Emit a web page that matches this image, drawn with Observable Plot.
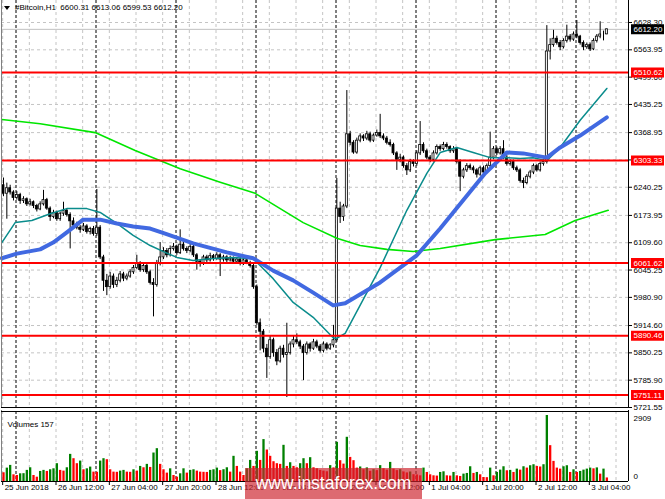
<!DOCTYPE html>
<html><head><meta charset="utf-8">
<script src="https://cdn.jsdelivr.net/npm/d3@7"></script>
<script src="https://cdn.jsdelivr.net/npm/@observablehq/plot@0.6"></script>
<style>
body{margin:0;background:#fff;}
#wrap{position:relative;width:665px;height:499px;overflow:hidden;font-family:"Liberation Sans",Arial,sans-serif;background:#fff;}
#main{position:absolute;left:0;top:0;}
#vol{position:absolute;left:0;top:410px;}
#tri{position:absolute;left:4px;top:6px;width:0;height:0;border-left:3px solid transparent;border-right:3px solid transparent;border-top:4px solid #000;}
#title{position:absolute;left:15px;top:3px;font-size:8px;line-height:10px;color:#000;white-space:pre;}
#wm{position:absolute;left:245px;top:468px;width:177px;height:31px;background:rgba(205,35,45,0.68);color:#fff;font-size:17.5px;line-height:31px;text-align:center;}
</style></head>
<body><div id="wrap"><div id="main"></div><div id="vol"></div><div id="tri"></div><div id="title"></div><div id="wm">www.instaforex.com</div></div>
<script>
// ---- H1 candles (bar 0 = 25 Jun 20:00) ----
const open = [6245,6225,6238,6228,6215,6222,6208,6212,6200,6205,
6196,6188,6200,6210,6190,6170,6180,6165,6178,6185,
6175,6160,6150,6145,6140,6148,6135,6142,6130,6145,
6075,6020,6005,6030,6010,6020,6035,6025,6030,6040,
6050,6060,6045,6055,6040,6015,6010,6060,6075,6090,
6080,6095,6100,6085,6105,6095,6090,6100,6080,6065,
6060,6075,6068,6078,6072,6080,6070,6075,6068,6072,
6065,6070,6060,6068,6062,6055,6005,5920,5900,5860,
5840,5880,5850,5830,5860,5845,5850,5870,5880,5875,
5865,5850,5870,5860,5875,5865,5855,5870,5860,5868,
5880,6190,6170,6195,6365,6345,6322,6350,6360,6355,
6365,6350,6362,6368,6360,6355,6345,6340,6320,6305,
6310,6290,6280,6300,6295,6320,6340,6325,6310,6305,
6320,6335,6330,6340,6335,6325,6330,6300,6265,6280,
6290,6285,6280,6270,6285,6275,6290,6310,6330,6320,
6330,6310,6295,6300,6285,6280,6255,6250,6265,6275,
6290,6280,6295,6300,6560,6575,6590,6580,6570,6585,
6595,6588,6600,6595,6580,6570,6575,6565,6585,6595,
6600,6600.31];
const high = [6262,6250,6245,6232,6230,6226,6218,6215,6212,6208,
6200,6206,6233,6214,6194,6186,6184,6182,6205,6190,
6180,6168,6158,6150,6155,6152,6146,6148,6235,6150,
6080,6035,6040,6036,6028,6042,6040,6036,6046,6056,
6080,6065,6062,6060,6045,6025,6068,6110,6098,6096,
6102,6108,6104,6140,6110,6100,6106,6104,6084,6070,
6080,6080,6085,6082,6086,6084,6080,6079,6078,6076,
6075,6074,6072,6071,6066,6060,6010,5930,5905,5870,
5890,5885,5858,5866,5868,5920,5876,5890,5895,5880,
5870,5876,5874,5882,5880,5870,5876,5874,5872,5915,
6261,6205,6200,6468,6372,6350,6356,6366,6364,6372,
6370,6366,6375,6412,6366,6360,6352,6344,6324,6318,
6314,6296,6306,6305,6326,6395,6345,6330,6315,6326,
6340,6340,6346,6345,6338,6336,6334,6305,6285,6296,
6295,6290,6284,6290,6290,6295,6370,6336,6335,6336,
6350,6315,6305,6304,6290,6284,6262,6270,6280,6295,
6294,6300,6305,6621,6590,6610,6596,6586,6590,6622,
6600,6606,6633,6598,6585,6580,6580,6590,6600,6630,
6608,6613.06];
const low = [6218,6165,6222,6208,6210,6200,6202,6195,6196,6190,
6182,6185,6196,6186,6160,6166,6160,6160,6172,6170,
6095,6145,6140,6132,6136,6130,6128,6125,6125,6070,
5995,5985,6000,6002,6004,6015,6018,6020,6026,6035,
6046,6040,6040,6035,6010,5935,6005,6055,6070,6074,
6076,6090,6080,6082,6090,6084,6086,6075,6045,6052,
6056,6062,6064,6066,6068,6030,6064,6062,6064,6060,
6062,6055,6056,6058,6050,6000,5915,5855,5850,5790,
5835,5840,5820,5826,5838,5745,5845,5862,5870,5858,
5785,5845,5852,5856,5860,5850,5850,5855,5856,5862,
5875,6155,6160,6190,6338,6318,6318,6345,6348,6350,
6345,6346,6358,6355,6350,6340,6335,6315,6280,6298,
6285,6268,6275,6288,6290,6315,6320,6305,6298,6300,
6316,6325,6326,6330,6320,6320,6295,6230,6260,6275,
6280,6272,6262,6266,6270,6272,6285,6305,6315,6316,
6305,6290,6290,6280,6275,6250,6237,6246,6260,6270,
6276,6276,6290,6295,6540,6570,6575,6562,6566,6580,
6582,6584,6590,6575,6562,6565,6560,6562,6580,6590,
6585,6599.53];
const close = [6225,6238,6228,6215,6222,6208,6212,6200,6205,6196,
6188,6200,6210,6190,6170,6180,6165,6178,6185,6175,
6160,6150,6145,6140,6148,6135,6142,6130,6145,6075,
6020,6005,6030,6010,6020,6035,6025,6030,6040,6050,
6060,6045,6055,6040,6015,6010,6060,6075,6090,6080,
6095,6100,6085,6105,6095,6090,6100,6080,6065,6060,
6075,6068,6078,6072,6080,6070,6075,6068,6072,6065,
6070,6060,6068,6062,6055,6005,5920,5900,5860,5840,
5880,5850,5830,5860,5845,5850,5870,5880,5875,5865,
5850,5870,5860,5875,5865,5855,5870,5860,5868,5880,
6190,6170,6195,6365,6345,6322,6350,6360,6355,6365,
6350,6362,6368,6360,6355,6345,6340,6320,6305,6310,
6290,6280,6300,6295,6320,6340,6325,6310,6305,6320,
6335,6330,6340,6335,6325,6330,6300,6265,6280,6290,
6285,6280,6270,6285,6275,6290,6310,6330,6320,6330,
6310,6295,6300,6285,6280,6255,6250,6265,6275,6290,
6280,6295,6300,6560,6575,6590,6580,6570,6585,6595,
6588,6600,6595,6580,6570,6575,6565,6585,6595,6600,
6600,6612.20];
const volume = [385,590,710,295,265,340,345,490,605,265,
190,443,490,443,517,560,785,490,458,605,
1196,1005,785,900,517,560,635,413,405,900,
1005,960,517,413,405,458,490,413,405,517,
458,665,605,755,620,1255,1447,755,517,370,
560,265,190,340,560,370,490,517,458,413,
405,400,490,517,590,480,520,605,413,1110,
665,413,265,560,930,665,1330,930,1847,1387,
1110,872,785,755,1595,665,827,665,605,785,
1005,785,1050,605,560,490,458,430,700,600,
1727,917,767,1949,1063,917,591,640,520,600,
450,520,480,700,560,500,842,546,480,520,
420,380,420,300,290,251,591,399,296,251,
240,399,428,251,240,399,251,222,325,355,
650,355,399,296,177,170,591,251,399,502,
650,473,490,399,546,502,650,591,695,739,
665,640,739,2909,1580,887,591,546,650,695,
399,517,399,443,502,546,591,560,600,325,
546,157];

// ---- moving averages (bar index, price) ----
const tealIdx = [-0.5,3.5,8.5,14,19,25,29,34,38.9,44,48.5,52,56.9,62,68.9,74.9,80.9,86.9,92.9,98.9,99.8,102.5,113,121,127,131,136,140.9,146,151,155,158.9,163,167,173,181];
const tealPrice = [6110,6157,6162,6178,6190,6190,6181,6155,6127,6103,6087,6075,6068,6072,6075,6072,6025,5969,5934,5886,5884,5896,6051,6186,6273,6322,6334,6322,6310,6310,6308,6310,6303,6334,6398,6473];
const blueIdx = [-0.5,4,11,14.9,19,23.9,29,34,38.9,44,48.5,56.9,67,74.9,80.9,86.9,92.9,98.9,102.5,113,124,131,144.5,151,155.9,163,167,173,181];
const bluePrice = [6073,6084,6094,6110,6134,6164,6164,6155,6148,6143,6131,6108,6087,6073,6044,6021,5992,5962,5967,6016,6080,6143,6273,6322,6320,6310,6334,6362,6405];
const greenIdx = [-0.5,11,27.5,39.5,53,65,75.5,89.9,100,107,115,122.9,131,147.5,162.5,171.5,181.4];
const greenPrice = [6400,6390,6369,6327,6284,6252,6226,6157,6120,6103,6094,6089,6096,6117,6129,6162,6186];

// ---- levels and axes ----
const levels = [6510.62,6303.33,6061.62,5890.46,5751.11];
const yTicks = [6628.30,6563.95,6499.60,6435.25,6368.95,6304.60,6240.25,6173.95,6109.60,6045.25,5980.90,5914.60,5850.25,5785.90,5721.55];
const volTicks = [2909,0];
const xTickIdx = [0,16,32,48,64,80,96,112,128,144,160,176];
const xTickLabels = ["25 Jun 2018","26 Jun 12:00","27 Jun 04:00","27 Jun 20:00","28 Jun 12:00","29 Jun 04:00","29 Jun 20:00","30 Jun 12:00","1 Jul 04:00","1 Jul 20:00","2 Jul 12:00","3 Jul 04:00"];
const gridIdx = [0,8,16,24,32,40,48,56,64,72,80,88,96,104,112,120,128,136,144,152,160,168,176,184];
const daySeparators = [4,28,52,76,100,124,148,172];
const symbol = "#Bitcoin,H1";

const n = close.length - 1;
const lastPrice = close[n];
const bars = close.map((c,i)=>({i, o:open[i], h:high[i], l:low[i], c}));
const vbars = volume.map((v,i)=>({i, v, up: i>0 && v>volume[i-1]}));
const pts = (xs, ys) => xs.map((x,k)=>({x, y: ys[k]}));
const xDomain = [-0.6, 187.5];
const font = {fontFamily:"Liberation Sans, Arial, sans-serif", fontSize:"8px", background:"#fff", overflow:"visible"};
const sh = d => d - 0.25;

const main = Plot.plot({
  width:665, height:410, marginLeft:1, marginRight:37, marginTop:0, marginBottom:3,
  x:{type:"linear", domain:xDomain, axis:null},
  y:{type:"linear", domain:[5721.55, 6680.1], axis:null},
  style:font,
  marks:[
    Plot.ruleY(yTicks, {stroke:"#c4c4c4", strokeDasharray:"3,3"}),
    Plot.ruleX(gridIdx, {x:sh, stroke:"#c4c4c4", strokeDasharray:"3,3"}),
    Plot.ruleX(daySeparators, {x:sh, stroke:"#000", strokeDasharray:"3,2"}),
    Plot.ruleY([lastPrice], {stroke:"#c0c0c0"}),
    Plot.ruleX(bars, {x:"i", y1:"l", y2:"h", stroke:"#000", strokeWidth:1}),
    Plot.rect(bars, {x1:d=>d.i-0.3, x2:d=>d.i+0.3, y1:"o", y2:"c", fill:d=>d.c>=d.o?"#fff":"#000", stroke:"#000", strokeWidth:0.8}),
    Plot.line(pts(greenIdx, greenPrice), {x:"x", y:"y", stroke:"#00e600", strokeWidth:1.6}),
    Plot.line(pts(tealIdx, tealPrice), {x:"x", y:"y", stroke:"#0a8c8c", strokeWidth:1.5}),
    Plot.line(pts(blueIdx, bluePrice), {x:"x", y:"y", stroke:"#4169e1", strokeWidth:4, strokeLinejoin:"round", strokeLinecap:"round"}),
    Plot.ruleY(levels, {stroke:"#ff0000", strokeWidth:2}),
    // frame
    Plot.ruleX([xDomain[0]], {stroke:"#808080"}),
    Plot.ruleX([xDomain[1]], {stroke:"#000"}),
    Plot.ruleY([5721.55], {stroke:"#000"}),
    Plot.ruleY([5721.55], {stroke:"#000", dy:3}),
    // price axis
    Plot.ruleY(yTicks, {insetLeft:627, insetRight:-4, stroke:"#000"}),
    Plot.text(yTicks, {y:d=>d, text:d=>d.toFixed(2), frameAnchor:"right", textAnchor:"start", dx:5, fill:"#000"}),
    Plot.ruleY(levels, {stroke:"#ff0000", strokeWidth:10, insetLeft:630, insetRight:-36}),
    Plot.text(levels, {y:d=>d, text:d=>d.toFixed(2), frameAnchor:"right", textAnchor:"start", dx:5, fill:"#fff"}),
    Plot.ruleY([lastPrice], {stroke:"#000", strokeWidth:10, insetLeft:630, insetRight:-36}),
    Plot.text([lastPrice], {y:d=>d, text:d=>d.toFixed(2), frameAnchor:"right", textAnchor:"start", dx:5, fill:"#fff"})
  ]
});
document.getElementById("main").appendChild(main);

const vol = Plot.plot({
  width:665, height:89, marginLeft:1, marginRight:37, marginTop:5, marginBottom:18,
  x:{type:"linear", domain:xDomain, axis:null},
  y:{type:"linear", domain:[0, 2909], axis:null},
  style:font,
  marks:[
    Plot.ruleX(gridIdx, {x:sh, stroke:"#c4c4c4", strokeDasharray:"3,3", insetTop:-4}),
    Plot.ruleX(daySeparators, {x:sh, stroke:"#000", strokeDasharray:"3,2", insetTop:-4}),
    Plot.ruleX(vbars, {x:"i", y1:0, y2:"v", stroke:d=>d.up?"#008000":"#ff0000", strokeWidth:2.3}),
    Plot.ruleX([xDomain[0]], {stroke:"#808080", insetTop:-5}),
    Plot.ruleX([xDomain[1]], {stroke:"#000", insetTop:-5}),
    Plot.ruleY([0], {stroke:"#000"}),
    Plot.ruleY([2909], {stroke:"#000", dy:-4}),
    Plot.text([`Volumes ${volume[n]}`], {frameAnchor:"top-left", dx:6, dy:6, fill:"#000"}),
    Plot.text([volTicks[0]], {y:d=>d, text:d=>String(d), frameAnchor:"right", textAnchor:"start", dx:5, dy:3, fill:"#000"}),
    Plot.text([volTicks[1]], {y:d=>d, text:d=>String(d), frameAnchor:"right", textAnchor:"start", dx:5, dy:-5, fill:"#000"}),
    Plot.ruleX(xTickIdx, {x:sh, stroke:"#000", insetTop:66, insetBottom:-4}),
    Plot.text(xTickIdx, {x:sh, text:(d,k)=>xTickLabels[k], frameAnchor:"bottom", textAnchor:"start", dx:2, dy:8, fill:"#000"})
  ]
});
document.getElementById("vol").appendChild(vol);

document.getElementById("title").textContent =
  `${symbol}  ${open[n].toFixed(2)} ${high[n].toFixed(2)} ${low[n].toFixed(2)} ${close[n].toFixed(2)}`;
</script>
</body></html>
